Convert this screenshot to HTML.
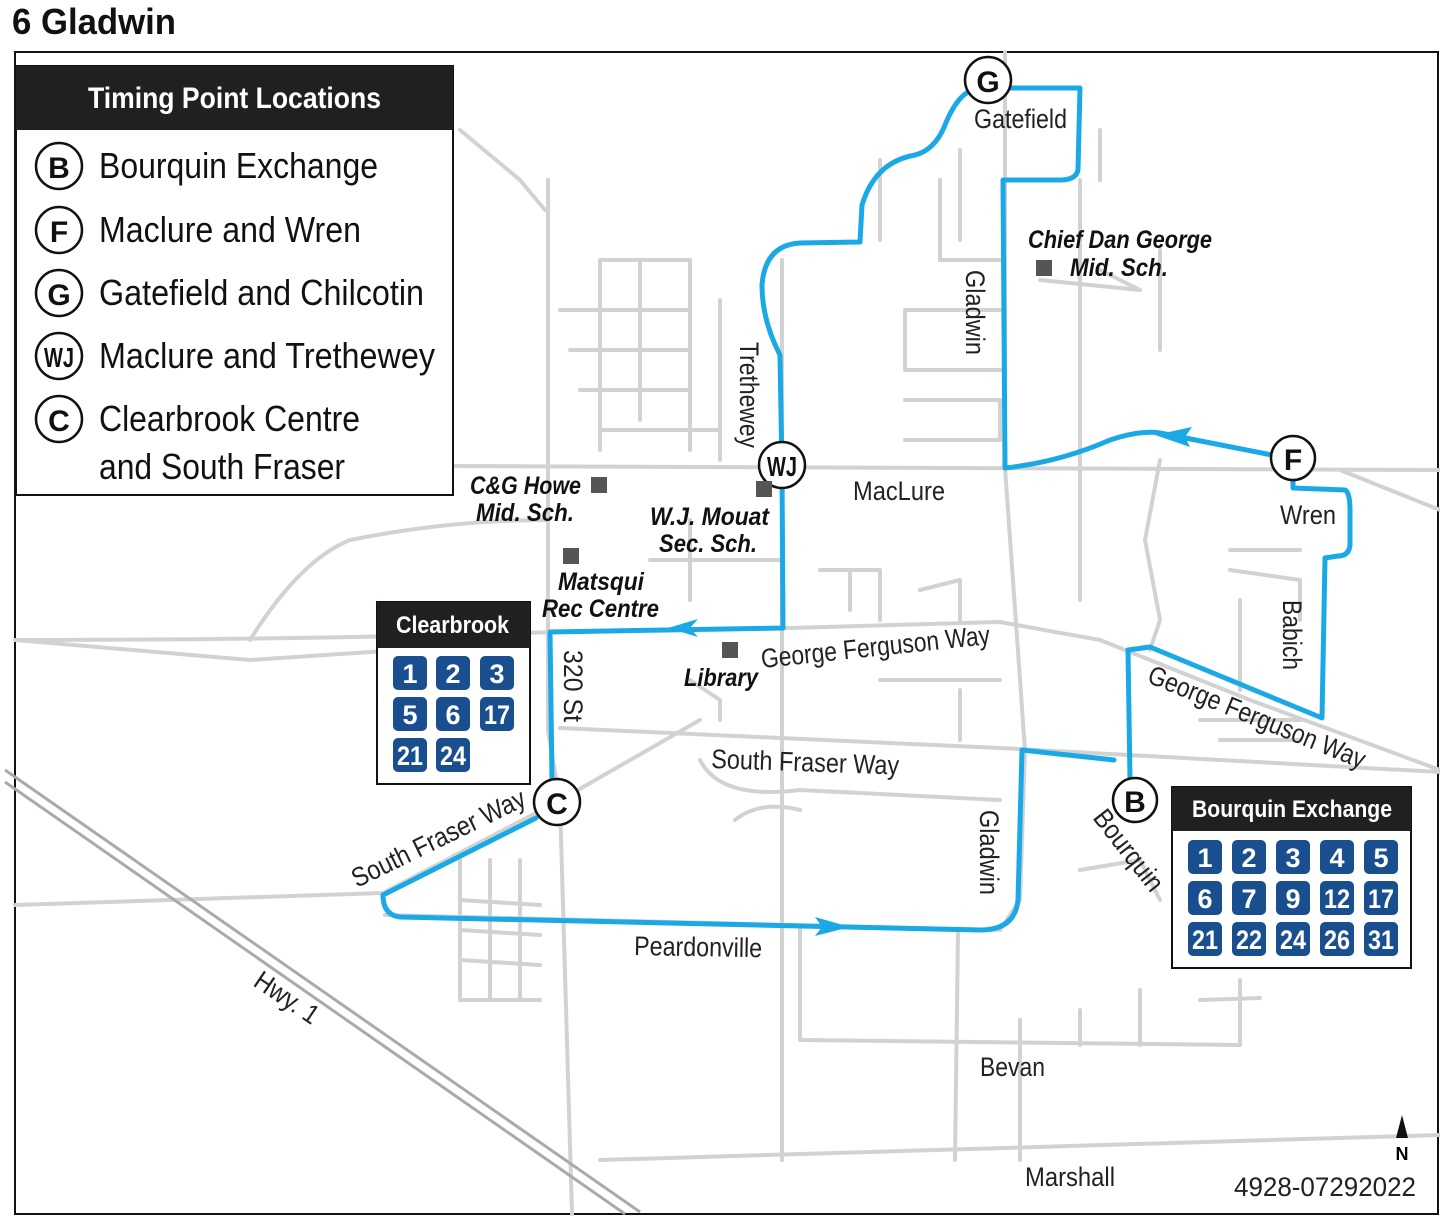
<!DOCTYPE html>
<html><head><meta charset="utf-8"><style>
body{margin:0;background:#fff}
svg{display:block}
text{font-family:"Liberation Sans Narrow","Liberation Sans",sans-serif}
.r{fill:none;stroke:#d2d2d2;stroke-width:4;stroke-linejoin:round;stroke-linecap:round}
.rt{fill:none;stroke:#1ba9e6;stroke-width:5;stroke-linejoin:round;stroke-linecap:round}
.lb{font-size:27px;fill:#222}
.it{font-size:25px;font-style:italic;font-weight:bold;fill:#111}
.sq{fill:#1a4f8f}
.n{font-size:27px;font-weight:bold;fill:#fff;text-anchor:middle}
.tp{fill:#fff;stroke:#111;stroke-width:2.5}
.tt{font-size:30px;font-weight:bold;fill:#111;text-anchor:middle}
.lg{font-size:36px;fill:#111}
</style></head><body>
<svg width="1440" height="1216" viewBox="0 0 1440 1216" xmlns="http://www.w3.org/2000/svg">
<text x="12" y="34" textLength="164" lengthAdjust="spacingAndGlyphs" style="font-size:36px;font-weight:bold;fill:#111">6 Gladwin</text>
<rect x="15" y="52" width="1423" height="1162" fill="#fff" stroke="#111" stroke-width="2"/>

<!-- roads -->
<g class="r">
<path d="M450 466 L1440 470"/>
<path d="M15 640 Q300 640 555 632 L790 628 L1000 622 L1100 640 L1250 700 L1440 770"/>
<path d="M560 728 L1000 748 L1440 772"/>
<path d="M1005 52 L1005 468 L1025 750 L1020 900 L1000 930"/>
<path d="M958 930 L955 1160"/>
<path d="M548 180 L548 730 L560 802 L572 1214"/>
<path d="M15 905 L383 893 L557 802 L700 720"/>
<path d="M600 1160 L1440 1135"/>
<path d="M800 930 L800 1040 L1240 1045 L1240 980"/>
<path d="M782 260 L782 1160"/>
<path d="M385 915 L1000 930"/>
<path d="M460 130 L520 180 L545 210"/>
<path d="M250 640 Q300 560 350 540 Q450 520 548 520"/>
<path d="M15 640 L250 660 L400 650"/>
<path d="M1160 460 L1145 540 L1160 620 L1150 650"/>
<path d="M1340 470 L1440 510"/>
<path d="M1080 600 L1080 180"/>
<path d="M700 760 Q720 800 800 790 L1000 800"/>
<path d="M735 820 Q760 800 800 810"/>
<path d="M1080 870 L1140 860 L1160 900"/>
<path d="M1020 1160 L1020 1020 M1080 1045 L1080 1010 M1140 1045 L1140 990 M1200 1000 L1260 998"/>
<path d="M600 260 L690 260 L690 450 M600 260 L600 450 M560 310 L690 310 M570 350 L690 350 M580 390 L690 390 M600 430 L720 430 M640 260 L640 420 M720 300 L720 460"/>
<path d="M905 310 L1000 310 M905 310 L905 370 L1000 370 M905 400 L1000 400 L1000 440 L905 440 M940 180 L940 260 L1000 260 M960 150 L960 240 M880 160 L880 240 M1100 130 L1100 180 M1100 270 L1140 290 M1160 250 L1160 350 M1040 280 L1140 290"/>
<path d="M650 560 L780 560 M690 520 L690 600 M820 570 L880 570 L880 620 M850 570 L850 610 M920 590 L960 580 L960 620 M880 680 L1000 680 M960 690 L960 740"/>
<path d="M1230 550 L1300 550 M1230 570 L1300 580 L1300 620 M1240 600 L1240 690 M1200 720 L1300 720 M1220 740 L1300 740"/>
<path d="M460 860 L460 1000 L540 1000 M460 930 L540 935 M460 960 L540 965 M490 860 L490 1000 M520 860 L520 1000 M460 900 L540 905"/>
<path d="M690 680 L720 700 L720 720"/>
</g>
<path d="M5 770 L640 1212" fill="none" stroke="#aaa" stroke-width="3"/>
<path d="M5 782 L625 1214" fill="none" stroke="#aaa" stroke-width="3"/>

<!-- route -->
<path class="rt" d="M557 802 L552 780 L550 632 L783 628 L782 470 L780 355 Q762 320 762 285 Q765 245 800 243 L860 242 L862 205 Q875 162 915 155 Q935 150 945 125 Q955 100 968 92 M1008 88 L1080 88 L1078 170 Q1076 180 1060 180 L1003 180 L1005 468 Q1060 462 1110 440 Q1140 430 1160 433 L1272 455 M1293 478 L1293 488 L1345 490 Q1350 492 1350 510 L1350 545 Q1349 556 1338 556 L1325 558 L1322 718 L1150 647 L1128 650 L1130 780 M1114 760 L1022 750 L1018 900 Q1015 930 980 930 L400 917 Q383 915 383 895 L536 818"/>
<polygon points="668,628 698,619 690,628 698,637" fill="#1ba9e6"/>
<polygon points="1155,435 1192,427 1185,437 1190,447" fill="#1ba9e6"/>
<polygon points="850,927 815,917 822,927 815,936" fill="#1ba9e6"/>

<!-- legend -->
<rect x="16" y="66" width="437" height="429" fill="#fff" stroke="#111" stroke-width="2"/>
<rect x="16" y="66" width="437" height="64" fill="#221f20"/>
<text x="88" y="108" textLength="293" lengthAdjust="spacingAndGlyphs" style="font-size:30px;font-weight:bold;fill:#fff">Timing Point Locations</text>
<g>
<circle class="tp" cx="59" cy="166" r="23"/><text class="tt" x="59" y="178">B</text><text class="lg" x="99" y="178" textLength="279" lengthAdjust="spacingAndGlyphs">Bourquin Exchange</text>
<circle class="tp" cx="59" cy="230" r="23"/><text class="tt" x="59" y="242">F</text><text class="lg" x="99" y="242" textLength="262" lengthAdjust="spacingAndGlyphs">Maclure and Wren</text>
<circle class="tp" cx="59" cy="293" r="23"/><text class="tt" x="59" y="305">G</text><text class="lg" x="99" y="305" textLength="325" lengthAdjust="spacingAndGlyphs">Gatefield and Chilcotin</text>
<circle class="tp" cx="59" cy="356" r="23"/><text class="tt" x="59" y="367" textLength="30" lengthAdjust="spacingAndGlyphs" style="font-size:28px">WJ</text><text class="lg" x="99" y="368" textLength="336" lengthAdjust="spacingAndGlyphs">Maclure and Trethewey</text>
<circle class="tp" cx="59" cy="419" r="23"/><text class="tt" x="59" y="431">C</text><text class="lg" x="99" y="431" textLength="261" lengthAdjust="spacingAndGlyphs">Clearbrook Centre</text>
<text class="lg" x="99" y="479" textLength="246" lengthAdjust="spacingAndGlyphs">and South Fraser</text>
</g>

<!-- timing points -->
<circle class="tp" cx="988" cy="80" r="23"/><text class="tt" x="988" y="92">G</text>
<circle class="tp" cx="782" cy="465" r="23"/><text class="tt" x="782" y="476" textLength="30" lengthAdjust="spacingAndGlyphs" style="font-size:28px">WJ</text>
<circle class="tp" cx="1293" cy="458" r="22"/><text class="tt" x="1293" y="470">F</text>
<circle class="tp" cx="1135" cy="800" r="22"/><text class="tt" x="1135" y="812">B</text>
<circle class="tp" cx="557" cy="802" r="23"/><text class="tt" x="557" y="814">C</text>

<!-- labels -->
<text class="lb" x="974" y="128" textLength="93" lengthAdjust="spacingAndGlyphs">Gatefield</text>
<text class="lb" x="853" y="500" textLength="92" lengthAdjust="spacingAndGlyphs">MacLure</text>
<text class="lb" x="1280" y="524" textLength="56" lengthAdjust="spacingAndGlyphs">Wren</text>
<text class="lb" x="711" y="768" transform="rotate(2 711 768)" textLength="188" lengthAdjust="spacingAndGlyphs">South Fraser Way</text>
<text class="lb" x="762" y="668" transform="rotate(-6 762 668)" textLength="230" lengthAdjust="spacingAndGlyphs">George Ferguson Way</text>
<text class="lb" x="1146" y="682" transform="rotate(22 1146 682)" textLength="232" lengthAdjust="spacingAndGlyphs">George Ferguson Way</text>
<text class="lb" x="357" y="888" transform="rotate(-26 357 888)" textLength="190" lengthAdjust="spacingAndGlyphs">South Fraser Way</text>
<text class="lb" x="634" y="955" transform="rotate(1 634 955)" textLength="128" lengthAdjust="spacingAndGlyphs">Peardonville</text>
<text class="lb" x="980" y="1076" textLength="65" lengthAdjust="spacingAndGlyphs">Bevan</text>
<text class="lb" x="1025" y="1186" textLength="90" lengthAdjust="spacingAndGlyphs">Marshall</text>
<text class="lb" x="252" y="985" transform="rotate(34 252 985)" textLength="72" lengthAdjust="spacingAndGlyphs">Hwy. 1</text>
<text class="lb" x="966" y="270" transform="rotate(90 966 270)" textLength="85" lengthAdjust="spacingAndGlyphs">Gladwin</text>
<text class="lb" x="980" y="810" transform="rotate(90 980 810)" textLength="85" lengthAdjust="spacingAndGlyphs">Gladwin</text>
<text class="lb" x="740" y="342" transform="rotate(90 740 342)" textLength="106" lengthAdjust="spacingAndGlyphs">Trethewey</text>
<text class="lb" x="564" y="650" transform="rotate(90 564 650)" textLength="72" lengthAdjust="spacingAndGlyphs">320 St</text>
<text class="lb" x="1283" y="600" transform="rotate(90 1283 600)" textLength="70" lengthAdjust="spacingAndGlyphs">Babich</text>
<text class="lb" x="1092" y="818" transform="rotate(52 1092 818)" textLength="96" lengthAdjust="spacingAndGlyphs">Bourquin</text>
<text x="1234" y="1196" textLength="182" lengthAdjust="spacingAndGlyphs" style="font-size:27px;fill:#222">4928-07292022</text>
<polygon points="1402,1115 1396,1138 1408,1138" fill="#111"/>
<text x="1402" y="1160" text-anchor="middle" style="font-size:18px;font-weight:bold">N</text>

<text class="it" x="1028" y="248" textLength="184" lengthAdjust="spacingAndGlyphs">Chief Dan George</text>
<text class="it" x="1070" y="276" textLength="98" lengthAdjust="spacingAndGlyphs">Mid. Sch.</text>
<rect x="1036" y="260" width="16" height="16" fill="#555"/>
<text class="it" x="470" y="494" textLength="111" lengthAdjust="spacingAndGlyphs">C&amp;G Howe</text>
<text class="it" x="476" y="521" textLength="98" lengthAdjust="spacingAndGlyphs">Mid. Sch.</text>
<rect x="591" y="477" width="16" height="16" fill="#555"/>
<rect x="756" y="481" width="16" height="16" fill="#555"/>
<text class="it" x="650" y="525" textLength="119" lengthAdjust="spacingAndGlyphs">W.J. Mouat</text>
<text class="it" x="659" y="552" textLength="98" lengthAdjust="spacingAndGlyphs">Sec. Sch.</text>
<rect x="563" y="548" width="16" height="16" fill="#555"/>
<text class="it" x="558" y="590" textLength="86" lengthAdjust="spacingAndGlyphs">Matsqui</text>
<text class="it" x="542" y="617" textLength="117" lengthAdjust="spacingAndGlyphs">Rec Centre</text>
<rect x="722" y="642" width="16" height="16" fill="#555"/>
<text class="it" x="684" y="686" textLength="74" lengthAdjust="spacingAndGlyphs">Library</text>

<!-- Clearbrook box -->
<rect x="377" y="602" width="153" height="182" fill="#fff" stroke="#111" stroke-width="2"/>
<rect x="377" y="602" width="153" height="46" fill="#221f20"/>
<text x="396" y="633" textLength="113" lengthAdjust="spacingAndGlyphs" style="font-size:24px;font-weight:bold;fill:#fff">Clearbrook</text>
<g>
<rect class="sq" x="393" y="656" width="34" height="34" rx="5"/><text class="n" x="410" y="683">1</text>
<rect class="sq" x="436" y="656" width="34" height="34" rx="5"/><text class="n" x="453" y="683">2</text>
<rect class="sq" x="480" y="656" width="34" height="34" rx="5"/><text class="n" x="497" y="683">3</text>
<rect class="sq" x="393" y="697" width="34" height="34" rx="5"/><text class="n" x="410" y="724">5</text>
<rect class="sq" x="436" y="697" width="34" height="34" rx="5"/><text class="n" x="453" y="724">6</text>
<rect class="sq" x="480" y="697" width="34" height="34" rx="5"/><text class="n" x="497" y="724" textLength="26" lengthAdjust="spacingAndGlyphs">17</text>
<rect class="sq" x="393" y="738" width="34" height="34" rx="5"/><text class="n" x="410" y="765" textLength="26" lengthAdjust="spacingAndGlyphs">21</text>
<rect class="sq" x="436" y="738" width="34" height="34" rx="5"/><text class="n" x="453" y="765" textLength="26" lengthAdjust="spacingAndGlyphs">24</text>
</g>

<!-- Bourquin box -->
<rect x="1172" y="787" width="239" height="181" fill="#fff" stroke="#111" stroke-width="2"/>
<rect x="1172" y="787" width="239" height="44" fill="#221f20"/>
<text x="1192" y="817" textLength="200" lengthAdjust="spacingAndGlyphs" style="font-size:24px;font-weight:bold;fill:#fff">Bourquin Exchange</text>
<g>
<rect class="sq" x="1188" y="840" width="34" height="34" rx="5"/><text class="n" x="1205" y="867">1</text>
<rect class="sq" x="1232" y="840" width="34" height="34" rx="5"/><text class="n" x="1249" y="867">2</text>
<rect class="sq" x="1276" y="840" width="34" height="34" rx="5"/><text class="n" x="1293" y="867">3</text>
<rect class="sq" x="1320" y="840" width="34" height="34" rx="5"/><text class="n" x="1337" y="867">4</text>
<rect class="sq" x="1364" y="840" width="34" height="34" rx="5"/><text class="n" x="1381" y="867">5</text>
<rect class="sq" x="1188" y="881" width="34" height="34" rx="5"/><text class="n" x="1205" y="908">6</text>
<rect class="sq" x="1232" y="881" width="34" height="34" rx="5"/><text class="n" x="1249" y="908">7</text>
<rect class="sq" x="1276" y="881" width="34" height="34" rx="5"/><text class="n" x="1293" y="908">9</text>
<rect class="sq" x="1320" y="881" width="34" height="34" rx="5"/><text class="n" x="1337" y="908" textLength="26" lengthAdjust="spacingAndGlyphs">12</text>
<rect class="sq" x="1364" y="881" width="34" height="34" rx="5"/><text class="n" x="1381" y="908" textLength="26" lengthAdjust="spacingAndGlyphs">17</text>
<rect class="sq" x="1188" y="922" width="34" height="34" rx="5"/><text class="n" x="1205" y="949" textLength="26" lengthAdjust="spacingAndGlyphs">21</text>
<rect class="sq" x="1232" y="922" width="34" height="34" rx="5"/><text class="n" x="1249" y="949" textLength="26" lengthAdjust="spacingAndGlyphs">22</text>
<rect class="sq" x="1276" y="922" width="34" height="34" rx="5"/><text class="n" x="1293" y="949" textLength="26" lengthAdjust="spacingAndGlyphs">24</text>
<rect class="sq" x="1320" y="922" width="34" height="34" rx="5"/><text class="n" x="1337" y="949" textLength="26" lengthAdjust="spacingAndGlyphs">26</text>
<rect class="sq" x="1364" y="922" width="34" height="34" rx="5"/><text class="n" x="1381" y="949" textLength="26" lengthAdjust="spacingAndGlyphs">31</text>
</g>
</svg>
</body></html>
